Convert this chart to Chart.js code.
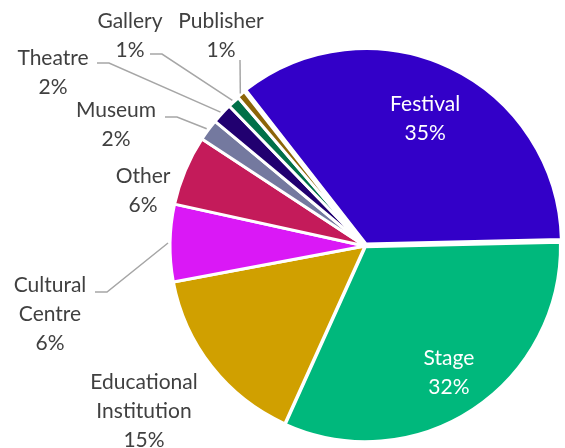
<!DOCTYPE html>
<html>
<head>
<meta charset="utf-8">
<script src="https://cdn.jsdelivr.net/npm/chart.js@4.4.0/dist/chart.umd.min.js"></script>
<style>
  html, body { margin: 0; padding: 0; background: #fff; }
  #wrap { width: 565px; height: 448px; }
</style>
</head>
<body>
<div id="wrap"><canvas id="pieChart" width="565" height="448"></canvas></div>
<script>
// dados (percentuais)
const categories = ['Festival', 'Stage', 'Educational Institution', 'Cultural Centre', 'Other', 'Museum', 'Theatre', 'Gallery', 'Publisher'];
const shares = [35.2, 32.1, 15.3, 6.4, 5.8, 1.8, 1.7, 1.0, 0.7];
const sliceColors = ['#3300C8', '#00B87C', '#D0A000', '#DA18F6', '#C41B5A', '#74799F', '#210070', '#007048', '#8C6508'];

// posição dos rótulos externos (centro da 1a linha) e linhas de chamada
const labelLayout = [
    { inside: 0.72 },
    { inside: 0.78 },
    { x: 144, y: 382 },
    { x: 50, y: 285, lead: [95, 107, 292] },
    { x: 143, y: 176 },
    { x: 116, y: 110, lead: [165, 177, 117] },
    { x: 53, y: 58, lead: [97, 109, 63] },
    { x: 130, y: 21, lead: [150, 162, 54] },
    { x: 221, y: 21, lead: [240, 240, 60] }
];

const total = shares.reduce((a, b) => a + b, 0);
const lineH = 29;

const labelPlugin = {
    id: 'sliceLabels',
    afterDatasetsDraw(chart) {
        const ctx = chart.ctx;
        const arcs = chart.getDatasetMeta(0).data;
        ctx.save();
        ctx.font = '21px Lato';
        ctx.textAlign = 'center';
        ctx.textBaseline = 'middle';
        arcs.forEach((arc, i) => {
            const p = arc.getProps(['x', 'y', 'startAngle', 'endAngle', 'outerRadius'], true);
            const mid = (p.startAngle + p.endAngle) / 2;
            const lines = categories[i].split(' ');
            lines.push(Math.round(shares[i] / total * 100) + '%');
            const lay = labelLayout[i];
            let x, y;
            if (lay.inside) {
                const r = p.outerRadius * lay.inside;
                x = p.x + Math.cos(mid) * r;
                y = p.y + Math.sin(mid) * r - (lines.length - 1) * lineH / 2;
                ctx.fillStyle = '#FFFFFF';
            } else {
                x = lay.x;
                y = lay.y;
                ctx.fillStyle = '#404040';
                if (lay.lead) {
                    const ex = p.x + Math.cos(mid) * (p.outerRadius + 2);
                    const ey = p.y + Math.sin(mid) * (p.outerRadius + 2);
                    ctx.beginPath();
                    ctx.strokeStyle = '#A6A6A6';
                    ctx.lineWidth = 1.5;
                    ctx.moveTo(lay.lead[0], lay.lead[2]);
                    ctx.lineTo(lay.lead[1], lay.lead[2]);
                    ctx.lineTo(ex, ey);
                    ctx.stroke();
                }
            }
            lines.forEach((t, k) => ctx.fillText(t, x, y + k * lineH));
        });
        ctx.restore();
    }
};

const ctx = document.getElementById('pieChart').getContext('2d');
new Chart(ctx, {
    type: 'pie',
    data: {
        labels: categories,
        datasets: [{
            data: shares,
            backgroundColor: sliceColors,
            borderColor: '#FFFFFF',
            borderWidth: 3,
            offset: [9, 3, 0, 0, 0, 0, 0, 0, 2]
        }]
    },
    options: {
        responsive: false,
        animation: false,
        rotation: -38,
        radius: 195,
        layout: { padding: { left: 170, right: 5, top: 51, bottom: 7 } },
        plugins: {
            legend: { display: false },
            tooltip: { enabled: false }
        }
    },
    plugins: [labelPlugin]
});
</script>
</body>
</html>
